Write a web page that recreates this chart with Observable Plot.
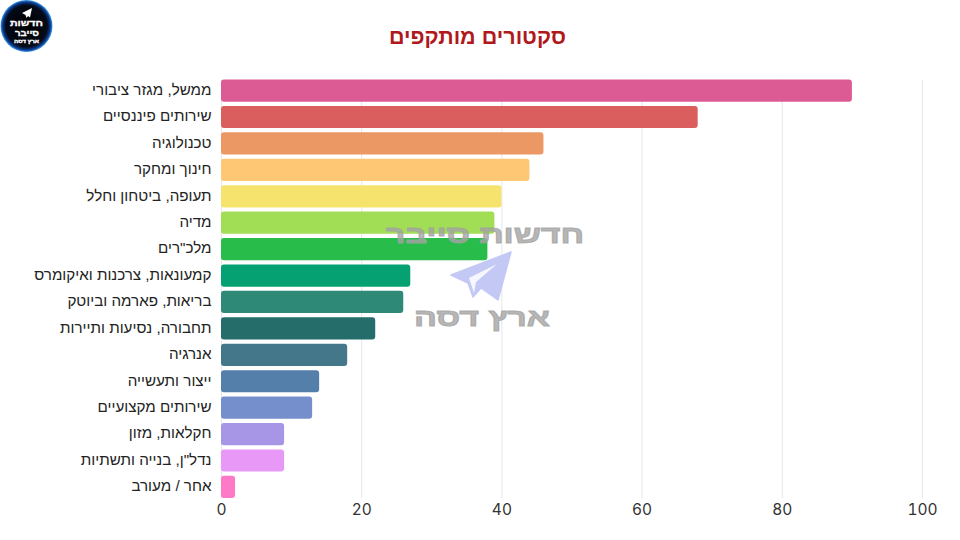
<!DOCTYPE html>
<html lang="he">
<head>
<meta charset="utf-8">
<script src="https://cdn.jsdelivr.net/npm/d3@7"></script>
<script src="https://cdn.jsdelivr.net/npm/@observablehq/plot@0.6"></script>
<style>
html,body{margin:0;padding:0;background:#fff;width:960px;height:540px;overflow:hidden}
#wrap{position:relative;width:960px;height:540px}
#title{position:absolute;left:0;top:23px;width:955px;text-align:center;font:bold 21.5px "Liberation Sans",sans-serif;color:#B0181C;direction:rtl;line-height:28px}
#chart svg{display:block;position:absolute;left:0;top:0}
.ov{position:absolute;left:0;top:0;pointer-events:none}
</style>
</head>
<body>
<div id="wrap">
<div id="chart"></div>
<div id="title">סקטורים מותקפים</div>
<svg class="ov" width="960" height="540" viewBox="0 0 960 540">
  <defs>
    <radialGradient id="g" cx="50%" cy="50%" r="50%">
      <stop offset="0" stop-color="#000"/><stop offset="0.8" stop-color="#050a18"/><stop offset="0.92" stop-color="#0a3a8c"/><stop offset="1" stop-color="#3f9fee"/>
    </radialGradient>
  </defs>
  <circle cx="26.5" cy="26" r="26" fill="url(#g)"/>
  <path d="M32 8 L22 13 L25.5 15 L26.5 18 L28 16 L30 17.5 Z" fill="#fff"/>
  <g font-family="'Liberation Sans'" font-weight="bold" fill="#fff" stroke="#fff" stroke-width="0.3" text-anchor="middle">
    <text x="26.5" y="26" font-size="8.5" textLength="33" lengthAdjust="spacingAndGlyphs">חדשות</text>
    <text x="27" y="36" font-size="8.5" textLength="24" lengthAdjust="spacingAndGlyphs">סייבר</text>
    <text x="26.5" y="42.5" font-size="4.5" textLength="25" lengthAdjust="spacingAndGlyphs">ארץ דסה</text>
  </g>
  <g font-family="'Liberation Sans'" font-weight="bold" fill="#a3a3a3" stroke="#a3a3a3" stroke-width="1" fill-opacity="0.8" stroke-opacity="0.8" text-anchor="middle" paint-order="stroke">
    <text x="485" y="243" font-size="25" textLength="198" lengthAdjust="spacingAndGlyphs">חדשות סייבר</text>
    <text x="482" y="326" font-size="25" textLength="136" lengthAdjust="spacingAndGlyphs">ארץ דסה</text>
  </g>
  <path d="M511 252 L451 275 L468 283 L473 297 L481 288 L498 300 Z" fill="#c3c8f5" stroke="#c3c8f5" stroke-width="1.5" stroke-linejoin="round"/>
  <path d="M497 264 L469 278 L474 293 L476 282 Z" fill="#fff" fill-opacity="0.85"/>
</svg>
</div>
<script>
const sectors = ['ממשל, מגזר ציבורי','שירותים פיננסיים','טכנולוגיה','חינוך ומחקר','תעופה, ביטחון וחלל','מדיה','מלכ"רים','קמעונאות, צרכנות ואיקומרס','בריאות, פארמה וביוטק','תחבורה, נסיעות ותיירות','אנרגיה','ייצור ותעשייה','שירותים מקצועיים','חקלאות, מזון','נדל"ן, בנייה ותשתיות','אחר / מעורב'];
const values = [90,68,46,44,40,39,38,27,26,22,18,14,13,9,9,2];
const colors = ['#DD5B95','#DB5E5E','#EC9865','#FEC773','#F5E36D','#A1DD55','#28BC4A','#05A173','#2E8A76','#256D6B','#447789','#557FAB','#758FCC','#A795E5','#E899F7','#FE79C7'];
const xTicks = [0,20,40,60,80,100];
const rows = sectors.map((s,i)=>({s,v:values[i],c:colors[i]}));
const chart = Plot.plot({
  width:960,height:540,
  marginLeft:221,marginRight:38,marginTop:79.5,marginBottom:42,
  style:{fontFamily:'Liberation Sans',background:'transparent'},
  x:{domain:[0,100],ticks:xTicks,label:null},
  y:{domain:sectors,label:null,round:false,paddingInner:0.16,paddingOuter:0},
  marks:[
    Plot.gridX(xTicks,{stroke:'#e6e6e6',strokeOpacity:1,strokeWidth:1}),
    Plot.barX(rows,{x:'v',y:'s',fill:d=>d.c,r:3}),
    Plot.axisY({tickSize:0,tickPadding:10,fontSize:15.2,label:null,textAnchor:'end',fill:'#222',fontFamily:'Liberation Sans',dy:-1}),
    Plot.axisX({ticks:xTicks,tickSize:0,tickPadding:5,fontSize:15.5,label:null,fontFamily:'Inter',fill:'#333'})
  ]
});
document.getElementById('chart').appendChild(chart);
</script>
</body>
</html>
